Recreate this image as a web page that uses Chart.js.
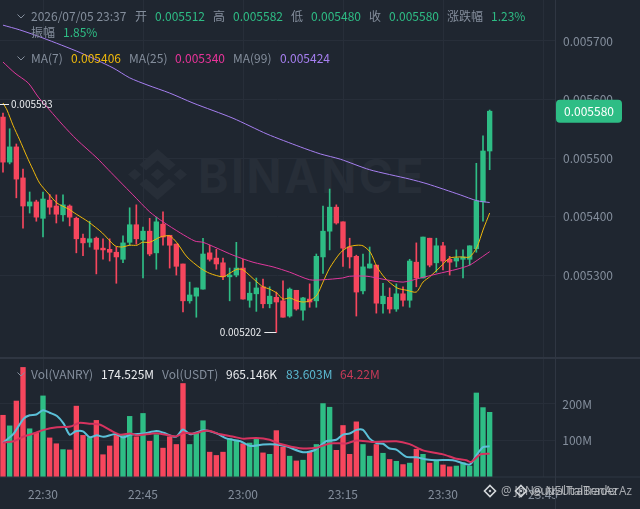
<!DOCTYPE html>
<html>
<head>
<meta charset="utf-8">
<title>VANRY</title>
<script src="https://cdn.jsdelivr.net/npm/chart.js@4"></script>
<style>
    html, body { margin: 0; padding: 0; background: #1f2630; }
    #wrap { position: relative; width: 640px; height: 509px; overflow: hidden; font-family: "Noto Sans CJK SC", "Noto Sans", sans-serif; font-size: 12px; color: #848e9c; }
    #wrap canvas { position: absolute; left: 0; top: 0; }
    .row { position: absolute; white-space: nowrap; line-height: 16px; height: 16px; }
    .row span { position: absolute; top: 0; }
    .chev { position: absolute; width: 8px; height: 5px; }
    #mark { position: absolute; left: 198px; top: 148px; font: 700 46px "Inter", "Liberation Sans", sans-serif; letter-spacing: 2.6px; color: #272e38; }
    #logo { position: absolute; left: 128px; top: 149px; }
    #credit { position: absolute; left: 483px; top: 482px; width: 157px; height: 20px; }
</style>
</head>
<body>
<div id="wrap">
    <div id="mark">BINANCE</div>
    <svg id="logo" width="59" height="51" viewBox="0 0 126.61 126.61" preserveAspectRatio="none">
        <g fill="#272e38">
            <path d="M38.73 53.2l24.59-24.58 24.6 24.6 14.3-14.31L63.32 0 24.43 38.9z"/>
            <path d="M0 63.31l14.3-14.31 14.31 14.31-14.31 14.3z"/>
            <path d="M38.73 73.41L63.32 98l24.6-24.6 14.31 14.29-38.9 38.91-38.91-38.88-.02-.01z"/>
            <path d="M98 63.31l14.3-14.31 14.31 14.31-14.31 14.3z"/>
            <path d="M77.83 63.3L63.32 48.78 52.59 59.51l-1.24 1.23-2.54 2.54 14.51 14.5 14.51-14.51z"/>
        </g>
    </svg>
    <canvas id="klineChart" width="640" height="509"></canvas>
    <div id="header"></div>
</div>
<script>
document.addEventListener("DOMContentLoaded", () => {
    // prices of each one minute candle, first one is 22:24
    const openPrices = [0.005570,0.005493,0.005519,0.005466,0.005418,0.005425,0.005397,0.005428,0.005418,0.005403,
        0.005418,0.005397,0.005363,0.005356,0.005363,0.005346,0.005344,0.005339,0.005327,0.005356,
        0.005386,0.005360,0.005375,0.005338,0.005387,0.005368,0.005353,0.005319,0.005256,0.005264,
        0.005276,0.005338,0.005329,0.005321,0.005297,0.005300,0.005312,0.005257,0.005268,0.005280,
        0.005251,0.005262,0.005256,0.005230,0.005274,0.005240,0.005259,0.005256,0.005331,0.005375,
        0.005416,0.005391,0.005348,0.005332,0.005273,0.005312,0.005317,0.005251,0.005262,0.005242,
        0.005268,0.005257,0.005322,0.005295,0.005363,0.005321,0.005350,0.005327,0.005324,0.005327,
        0.005327,0.005345,0.005425,0.005512];
    const highPrices = [0.005577,0.005550,0.005524,0.005481,0.005442,0.005428,0.005442,0.005438,0.005437,0.005437,
        0.005420,0.005399,0.005370,0.005392,0.005365,0.005362,0.005362,0.005348,0.005367,0.005415,
        0.005420,0.005382,0.005397,0.005399,0.005408,0.005368,0.005353,0.005319,0.005288,0.005278,
        0.005363,0.005351,0.005344,0.005329,0.005312,0.005356,0.005327,0.005288,0.005295,0.005293,
        0.005280,0.005271,0.005290,0.005278,0.005274,0.005262,0.005285,0.005336,0.005418,0.005447,
        0.005420,0.005391,0.005363,0.005334,0.005336,0.005348,0.005317,0.005286,0.005278,0.005285,
        0.005280,0.005327,0.005355,0.005365,0.005363,0.005363,0.005356,0.005332,0.005343,0.005343,
        0.005350,0.005491,0.005538,0.005582];
    const lowPrices = [0.005476,0.005490,0.005432,0.005380,0.005406,0.005392,0.005365,0.005404,0.005389,0.005392,
        0.005384,0.005338,0.005333,0.005348,0.005302,0.005327,0.005324,0.005286,0.005321,0.005351,
        0.005353,0.005295,0.005333,0.005310,0.005351,0.005312,0.005300,0.005237,0.005252,0.005228,
        0.005276,0.005324,0.005310,0.005292,0.005256,0.005297,0.005259,0.005245,0.005238,0.005244,
        0.005244,0.005202,0.005228,0.005228,0.005240,0.005223,0.005245,0.005245,0.005303,0.005343,
        0.005387,0.005315,0.005312,0.005230,0.005268,0.005312,0.005235,0.005235,0.005235,0.005238,
        0.005247,0.005245,0.005280,0.005295,0.005314,0.005305,0.005309,0.005300,0.005314,0.005295,
        0.005317,0.005339,0.005392,0.005480];
    const closePrices = [0.005493,0.005519,0.005464,0.005418,0.005425,0.005399,0.005430,0.005416,0.005404,0.005420,
        0.005399,0.005362,0.005355,0.005362,0.005344,0.005343,0.005339,0.005331,0.005355,0.005386,
        0.005362,0.005375,0.005336,0.005391,0.005365,0.005351,0.005315,0.005256,0.005266,0.005278,
        0.005336,0.005327,0.005319,0.005297,0.005300,0.005312,0.005259,0.005269,0.005278,0.005251,
        0.005264,0.005254,0.005228,0.005276,0.005242,0.005261,0.005254,0.005332,0.005375,0.005416,
        0.005389,0.005346,0.005331,0.005271,0.005314,0.005319,0.005252,0.005264,0.005242,0.005268,
        0.005257,0.005324,0.005295,0.005365,0.005317,0.005350,0.005324,0.005322,0.005329,0.005331,
        0.005350,0.005427,0.005512,0.005580];
    const volumes = [169,140,208,300,132,121,222,107,91,75,74,194,114,108,155,61,85,114,117,166,110,174,98,116,79,110,89,256,89,121,
        154,68,59,68,105,101,91,93,103,66,62,127,82,57,44,46,68,89,201,191,73,141,62,151,89,57,89,65,48,43,
        34,38,76,62,38,46,33,28,30,39,30,230,190,177];

    // moving averages, read at the candle position they sit on
    const ma7At = [0,0.6,1.5,2.5,3.6,4.5,5.5,6.9,8.1,9.8,11,12.8,14.9,16.8,17.9,19,20.1,20.9,22,23.6,25,26.1,27.6,29.6,31,33,34,35.1,36,38.1,39,40,41.1,42,43,44.1,45,46,47.1,48,49,50.6,51.8,53.1,54,55.1,56.1,57.3,59.1,60.6,62,63,64,65.6,67,68.6,70,71.1,72,73];
    const ma7 = [0.005594,0.005582,0.005556,0.005531,0.005502,0.005480,0.005457,0.005438,0.005423,0.005413,0.005404,0.005391,0.005372,0.005350,0.005348,0.005351,0.005351,0.005356,0.005356,0.005365,0.005367,0.005355,0.005331,0.005312,0.005303,0.005297,0.005303,0.005310,0.005309,0.005288,0.005280,0.005276,0.005269,0.005259,0.005261,0.005256,0.005254,0.005256,0.005266,0.005288,0.005312,0.005338,0.005348,0.005351,0.005350,0.005339,0.005314,0.005295,0.005278,0.005274,0.005271,0.005288,0.005297,0.005314,0.005329,0.005331,0.005331,0.005348,0.005377,0.005406];
    const ma25At = [0,1.8,3.8,5.3,7,9,11.1,14.1,15.8,17.6,19.5,22,24,26.6,28.8,30,32.1,34.5,37.5,40.5,43,46,48,50.9,52,54.6,57,60,62.6,65.1,68.1,70,71.6,73];
    const ma25 = [0.005664,0.005645,0.005628,0.005604,0.005582,0.005556,0.005531,0.005500,0.005480,0.005459,0.005437,0.005408,0.005391,0.005372,0.005358,0.005356,0.005346,0.005334,0.005322,0.005314,0.005305,0.005292,0.005292,0.005295,0.005298,0.005298,0.005293,0.005288,0.005295,0.005302,0.005310,0.005317,0.005329,0.005340];
    const ma99At = [0,2.5,6,11.6,16.5,19,21.6,25,28.5,34.5,39.6,44.6,47.6,50.6,55,61,63.6,68.6,71.1,73];
    const ma99 = [0.005727,0.005719,0.005705,0.005680,0.005654,0.005637,0.005625,0.005611,0.005594,0.005568,0.005541,0.005519,0.005507,0.005498,0.005480,0.005464,0.005456,0.005437,0.005427,0.005424];

    const volMaBlueAt = [0,1.6,3.1,4,5,6,7,8.1,9.1,10,10.9,12,13,14.1,15.1,16.9,18,19.1,21.1,23,24.1,25.9,27,28.1,30.1,32.1,33.6,35.6,37.1,39,41,42.5,45,46.8,48.5,50,51,52,53,54,55,56,57,58,59,60.5,62,63.6,65,67.5,70,71,72,73];
    const volMaBlue = [94,119,160,169,171,183,176,167,146,116,125,125,109,114,110,118,108,116,119,126,121,110,130,117,128,119,105,98,85,89,89,84,68,74,98,102,116,119,129,129,105,93,91,78,75,55,54,48,46,46,34,59,82,84];
    const volMaPinkAt = [0,1.6,3.1,4.6,6.1,8.1,10.1,11.4,13.1,14.6,16.1,17.6,19.1,20.1,23.1,25.9,27.1,28.6,30.6,32.6,34.6,36.1,38,40,41.5,44.5,47,49,51.5,53,55.5,59,61,63,66,68,69.5,70.2,71.6,73];
    const volMaPink = [94,98,111,119,129,136,138,148,146,143,128,116,119,114,120,111,121,119,127,117,110,105,107,102,91,79,80,92,92,100,96,98,90,73,62,50,46,41,62,64];

    const priceTicks = [0.0053, 0.0054, 0.0055, 0.0056, 0.0057];
    const volumeTicks = [100, 200];
    const timeTickAt = [6, 21, 36, 51, 66, 81];
    const timeTickLabels = ["22:30", "22:45", "23:00", "23:15", "23:30", "23:45"];

    const highMark = { at: 0, price: 0.005593, label: "0.005593" };
    const lowMark = { at: 41, price: 0.005202, label: "0.005202" };
    const lastPrice = 0.005580;

    const headerRows = [
        { top: 8, items: [[31, "2026/07/05 23:37"], [135, "开"], [155, "0.005512", "#2ebd85"], [213, "高"], [233, "0.005582", "#2ebd85"], [291, "低"], [311, "0.005480", "#2ebd85"], [369, "收"], [389, "0.005580", "#2ebd85"], [447, "涨跌幅"], [491, "1.23%", "#2ebd85"]] },
        { top: 24, items: [[31, "振幅"], [63, "1.85%", "#2ebd85"]] },
        { top: 50, items: [[31, "MA(7)"], [71, "0.005406", "#f0b90b"], [129, "MA(25)"], [175, "0.005340", "#e9349a"], [233, "MA(99)"], [280, "0.005424", "#a67ff0"]] },
        { top: 366, items: [[31, "Vol(VANRY)"], [101, "174.525M", "#eaecef"], [162, "Vol(USDT)"], [226, "965.146K", "#eaecef"], [286, "83.603M", "#5bb8d0"], [340, "64.22M", "#c63a58"]] }
    ];
    const chevronTops = [14, 56, 372];

    const green = "#2ebd85";
    const red = "#f6465d";
    const gridColor = "#272e39";
    const axisColor = "#2f3642";

    // header texts
    const header = document.getElementById("header");
    headerRows.forEach((row) => {
        const div = document.createElement("div");
        div.className = "row";
        div.style.top = row.top + "px";
        div.style.left = "0";
        row.items.forEach(([left, text, color]) => {
            const span = document.createElement("span");
            span.style.left = left + "px";
            if (color) span.style.color = color;
            span.textContent = text;
            div.appendChild(span);
        });
        header.appendChild(div);
    });
    chevronTops.forEach((top) => {
        header.insertAdjacentHTML("beforeend", `<svg class="chev" style="left:17px;top:${top}px" viewBox="0 0 8 5"><path d="M0.5 0.5 L4 4 L7.5 0.5" fill="none" stroke="#848e9c" stroke-width="1"/></svg>`);
    });
    // two author marks printed over each other, like in the screenshot
    header.insertAdjacentHTML("beforeend", `<svg id="credit" viewBox="0 0 157 20">
        <g fill="none" stroke="#d5d8dc" stroke-width="1.6">
            <path d="M7 3.5 L12.5 9 L7 14.5 L1.5 9 Z"/>
            <path d="M38 3.5 L43.5 9 L38 14.5 L32.5 9 Z"/>
        </g>
        <g fill="#d5d8dc">
            <path d="M7 7.5 L8.5 9 L7 10.5 L5.5 9 Z"/>
            <path d="M38 7.5 L39.5 9 L38 10.5 L36.5 9 Z"/>
        </g>
        <text x="18" y="13" font-size="11.7" fill="#c4c7cb" fill-opacity="0.8" font-family="Noto Sans">@ JpNeutralTraBenAz</text>
        <text x="49" y="13" font-size="11.7" fill="#c4c7cb" fill-opacity="0.8" font-family="Noto Sans">@ NEUtalTraderAz</text>
    </svg>`);

    const indexes = openPrices.map((_, i) => i);
    const candleColors = indexes.map((i) => (closePrices[i] >= openPrices[i] ? green : red));

    const pairUp = (at, values) => at.map((x, i) => ({ x: x, y: values[i] }));

    // things the datasets can't draw: panel lines, high/low markers, last price badge
    const overlayPlugin = {
        id: "overlay",
        afterDraw(chart) {
            const ctx = chart.ctx;
            const x = chart.scales.x;
            const y = chart.scales.price;
            const right = chart.chartArea.right;
            ctx.save();

            ctx.strokeStyle = axisColor;
            ctx.lineWidth = 1;
            ctx.beginPath();
            ctx.moveTo(right + 0.5, 0);
            ctx.lineTo(right + 0.5, chart.height);
            ctx.moveTo(0, 477);
            ctx.lineTo(chart.width, 477);
            ctx.stroke();
            ctx.lineWidth = 2;
            ctx.beginPath();
            ctx.moveTo(0, 358);
            ctx.lineTo(chart.width, 358);
            ctx.stroke();

            ctx.font = '10px "Noto Sans CJK SC", "Noto Sans", sans-serif';
            ctx.textBaseline = "middle";
            ctx.fillStyle = "#eaecef";
            ctx.strokeStyle = "#eaecef";
            ctx.lineWidth = 1;

            const highY = Math.round(y.getPixelForValue(highMark.price)) + 0.5;
            ctx.beginPath();
            ctx.moveTo(0, highY);
            ctx.lineTo(9, highY);
            ctx.stroke();
            ctx.textAlign = "left";
            ctx.fillText(highMark.label, 11, highY);

            const lowY = Math.round(y.getPixelForValue(lowMark.price)) + 0.5;
            const lowX = x.getPixelForValue(lowMark.at);
            ctx.beginPath();
            ctx.moveTo(lowX - 12, lowY);
            ctx.lineTo(lowX, lowY);
            ctx.stroke();
            ctx.textAlign = "right";
            ctx.fillText(lowMark.label, lowX - 15, lowY);

            const lastY = y.getPixelForValue(lastPrice);
            ctx.fillStyle = green;
            ctx.beginPath();
            ctx.roundRect(right + 1, lastY - 11.5, 66, 23, 4);
            ctx.fill();
            ctx.font = '12px "Noto Sans CJK SC", "Noto Sans", sans-serif';
            ctx.fillStyle = "#ffffff";
            ctx.textAlign = "left";
            ctx.fillText(lastPrice.toFixed(6), right + 9, lastY + 0.5);
            ctx.restore();
        }
    };

    const barDataset = (data, colors, thickness, yAxisID, order) => ({
        type: "bar",
        data: data,
        backgroundColor: colors,
        barThickness: thickness,
        grouped: false,
        yAxisID: yAxisID,
        order: order
    });
    const lineDataset = (data, color, width, yAxisID) => ({
        type: "line",
        data: data,
        borderColor: color,
        borderWidth: width,
        pointRadius: 0,
        tension: 0.25,
        yAxisID: yAxisID,
        order: 0
    });

    const tickFont = { family: '"Noto Sans CJK SC", "Noto Sans", sans-serif', size: 12 };
    const noMargins = (scale) => {
        scale.paddingTop = 0;
        scale.paddingBottom = 0;
        scale.paddingLeft = 0;
        scale.paddingRight = 0;
    };

    new Chart(document.getElementById("klineChart"), {
        data: {
            datasets: [
                barDataset(indexes.map((i) => ({ x: i, y: [lowPrices[i], highPrices[i]] })), candleColors, 1, "price", 3),
                barDataset(indexes.map((i) => ({ x: i, y: [openPrices[i], closePrices[i]] })), candleColors, 4.7, "price", 2),
                lineDataset(pairUp(ma99At, ma99), "#a67ff0", 1, "price"),
                lineDataset(pairUp(ma25At, ma25), "#e0389c", 1, "price"),
                lineDataset(pairUp(ma7At, ma7), "#f0b90b", 1, "price"),
                barDataset(indexes.map((i) => ({ x: i, y: volumes[i] })), candleColors, 4.7, "volume", 2),
                lineDataset(pairUp(volMaPinkAt, volMaPink), "#d6335f", 2, "volume"),
                lineDataset(pairUp(volMaBlueAt, volMaBlue), "#5bc0d8", 2, "volume")
            ]
        },
        options: {
            responsive: false,
            animation: false,
            parsing: { xAxisKey: "x", yAxisKey: "y" },
            layout: { padding: 0 },
            plugins: { legend: { display: false }, tooltip: { enabled: false } },
            scales: {
                x: {
                    type: "linear",
                    offset: false,
                    min: -0.45,
                    max: 82.8,
                    afterBuildTicks: (scale) => { scale.ticks = timeTickAt.map((v) => ({ value: v })); },
                    afterFit: (scale) => { scale.height = 32; noMargins(scale); },
                    grid: { color: gridColor, drawTicks: false, offset: false },
                    border: { display: false },
                    ticks: {
                        padding: 10,
                        color: "#848e9c",
                        font: tickFont,
                        maxRotation: 0,
                        autoSkip: false,
                        callback: (v) => timeTickLabels[timeTickAt.indexOf(v)]
                    }
                },
                // drawn on top of the price axis, only its two labels show between the others
                volume: {
                    type: "linear",
                    position: "right",
                    weight: 0,
                    min: 0,
                    max: 1306,
                    afterBuildTicks: (scale) => { scale.ticks = volumeTicks.map((v) => ({ value: v })); },
                    afterFit: (scale) => { scale.width = 0; noMargins(scale); },
                    grid: { color: gridColor, drawTicks: false },
                    border: { display: false },
                    ticks: { mirror: true, padding: 37, color: "#848e9c", font: tickFont, callback: (v) => v + "M" }
                },
                price: {
                    type: "linear",
                    position: "right",
                    weight: 1,
                    min: 0.004955,
                    max: 0.00577,
                    afterBuildTicks: (scale) => { scale.ticks = priceTicks.map((v) => ({ value: v })); },
                    afterFit: (scale) => { scale.width = 85; noMargins(scale); },
                    grid: { color: gridColor, drawTicks: false },
                    border: { display: false },
                    ticks: { padding: 8, crossAlign: "near", color: "#848e9c", font: tickFont, callback: (v) => v.toFixed(6) }
                }
            }
        },
        plugins: [overlayPlugin]
    });
});
</script>
</body>
</html>
